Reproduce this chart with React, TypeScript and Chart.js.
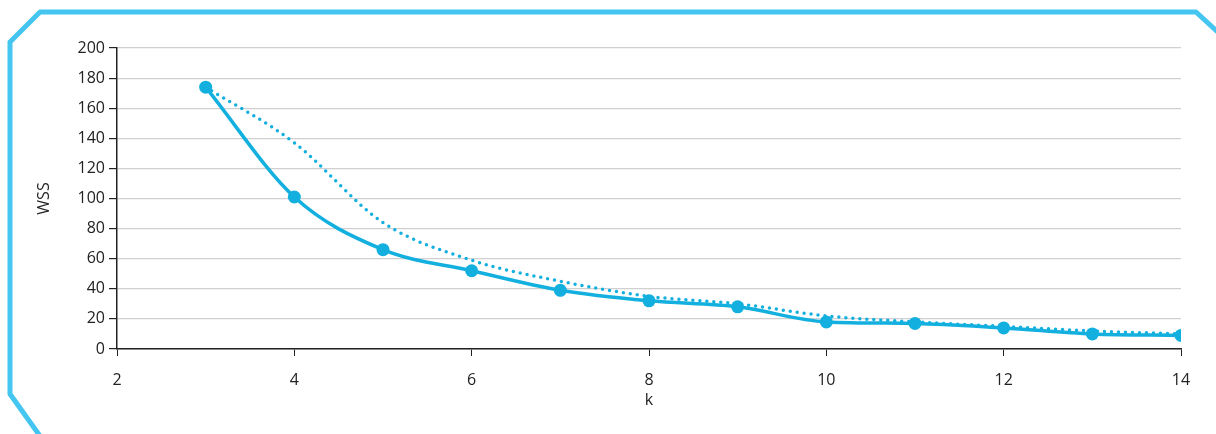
import { useEffect, useRef } from "react"
import { Chart, registerables } from "chart.js"

Chart.register(...registerables)

const kValues = [3, 4, 5, 6, 7, 8, 9, 10, 11, 12, 13, 14]
const wssSolid = [174, 101, 66, 52, 39, 32, 28, 18, 17, 14, 10, 9]
const wssDotted = [174, 137, 84, 59, 45, 35, 30, 22, 18, 15, 12, 10]

const BLUE = "#13b0df"

const framePlugin = {
  id: "frame",
  beforeDraw(chart: Chart) {
    const ctx = chart.ctx
    const w = chart.width
    const h = chart.height
    ctx.save()
    ctx.strokeStyle = "#44c6f0"
    ctx.lineWidth = 5
    ctx.lineJoin = "round"
    ctx.beginPath()
    ctx.moveTo(40, h + 2)
    ctx.lineTo(10, h - 40)
    ctx.lineTo(10, 42)
    ctx.lineTo(40, 12)
    ctx.lineTo(w - 20, 12)
    ctx.lineTo(w + 5, 35)
    ctx.stroke()
    ctx.restore()
  },
}

export default function App() {
  const ref = useRef<HTMLCanvasElement>(null)

  useEffect(() => {
    document.body.style.margin = "0"
    if (!ref.current) return
    const font = { family: "'Open Sans', sans-serif", size: 16 }
    const chart = new Chart(ref.current, {
      type: "line",
      data: {
        datasets: [
          {
            data: kValues.map((k, i) => ({ x: k, y: wssSolid[i] })),
            borderColor: BLUE,
            backgroundColor: BLUE,
            borderWidth: 3.5,
            pointRadius: 6.5,
            pointBorderWidth: 0,
            cubicInterpolationMode: "monotone",
          },
          {
            data: kValues.map((k, i) => ({ x: k, y: wssDotted[i] })),
            borderColor: BLUE,
            borderWidth: 3.5,
            borderDash: [0, 7],
            borderCapStyle: "round",
            pointRadius: 0,
            cubicInterpolationMode: "monotone",
          },
        ],
      },
      options: {
        animation: false,
        responsive: false,
        layout: { padding: { left: 35, right: 35, top: 48, bottom: 24 } },
        plugins: { legend: { display: false }, tooltip: { enabled: false } },
        scales: {
          x: {
            type: "linear",
            min: 2,
            max: 14,
            ticks: { stepSize: 2, color: "#222", font, padding: 15 },
            grid: { drawOnChartArea: false, tickLength: 7, tickColor: "#222" },
            border: { color: "#222", width: 1.5 },
            title: { display: true, text: "k", color: "#222", font, padding: 0 },
            afterFit: (s: any) => {
              s.height = 61
            },
          },
          y: {
            min: 0,
            max: 200,
            ticks: { stepSize: 20, color: "#222", font, padding: 4 },
            grid: { color: "#d0d0d0", tickLength: 8, tickColor: "#222", lineWidth: 1.2 },
            border: { color: "#222", width: 1.5 },
            title: { display: true, text: "WSS", color: "#222", font, padding: 0 },
            afterFit: (s: any) => {
              s.width = 82
            },
          },
        },
      },
      plugins: [framePlugin],
    })
    return () => chart.destroy()
  }, [])

  return <canvas ref={ref} width={1216} height={434} style={{ display: "block" }} />
}
